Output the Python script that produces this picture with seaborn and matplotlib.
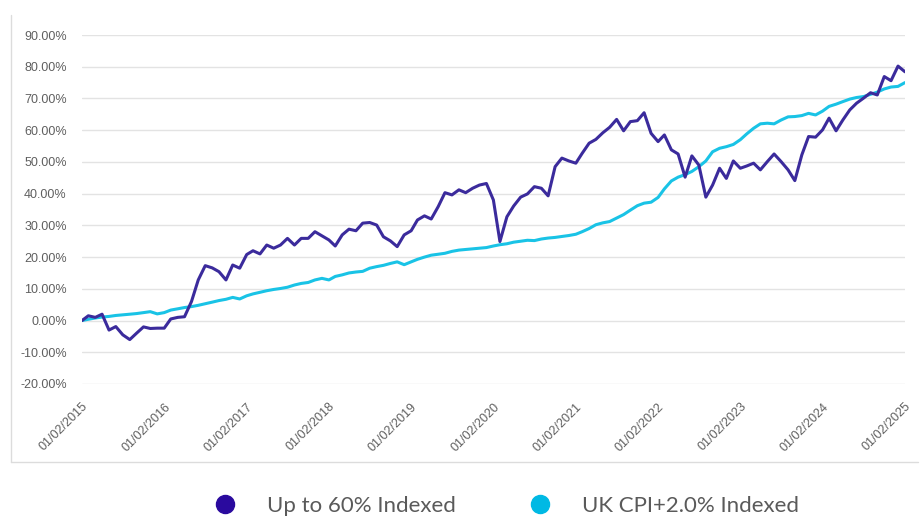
import numpy as np
import pandas as pd
import matplotlib
matplotlib.use("Agg")
import matplotlib.pyplot as plt
import matplotlib.dates as mdates
from matplotlib.lines import Line2D
from matplotlib.ticker import FuncFormatter
import seaborn as sns

# monthly index values (%), Feb 2015 .. Feb 2025
dates = pd.date_range("2015-02-01", periods=121, freq="MS")

up_to_60 = [
    0.0, 1.5, 1.0, 2.0, -3.0, -1.9, -4.5, -6.0, -4.0, -2.0,
    -2.5, -2.4, -2.4, 0.5, 1.0, 1.2, 6.0, 12.8, 17.3, 16.6,
    15.4, 12.8, 17.5, 16.5, 20.8, 22.0, 21.0, 23.8, 22.8, 23.8,
    25.9, 23.8, 25.9, 25.9, 28.0, 26.7, 25.4, 23.5, 27.0, 28.8,
    28.3, 30.7, 30.9, 30.1, 26.4, 25.1, 23.3, 27.0, 28.3, 31.7,
    33.0, 32.0, 35.9, 40.3, 39.6, 41.2, 40.3, 41.7, 42.7, 43.2,
    38.0, 24.9, 32.7, 36.1, 38.9, 39.9, 42.2, 41.7, 39.3, 48.5,
    51.2, 50.3, 49.6, 52.7, 55.9, 57.1, 59.2, 60.9, 63.4, 59.8,
    62.7, 63.0, 65.5, 59.0, 56.4, 58.5, 53.8, 52.5, 45.2, 51.9,
    49.0, 38.9, 42.7, 48.0, 44.8, 50.3, 48.0, 48.7, 49.6, 47.5,
    50.1, 52.5, 50.1, 47.5, 44.1, 52.2, 58.0, 57.8, 60.1, 63.8,
    59.8, 63.2, 66.4, 68.5, 70.1, 71.8, 71.1, 76.9, 75.6, 80.2,
    78.4,
]

uk_cpi_2 = [
    0.0, 0.4, 0.8, 1.1, 1.3, 1.6, 1.8, 2.0, 2.2, 2.5,
    2.8, 2.1, 2.5, 3.3, 3.7, 4.1, 4.4, 4.8, 5.3, 5.8,
    6.3, 6.7, 7.3, 6.8, 7.8, 8.4, 8.9, 9.4, 9.8, 10.1,
    10.5, 11.2, 11.7, 12.0, 12.8, 13.3, 12.8, 13.9, 14.4, 15.0,
    15.3, 15.5, 16.5, 17.0, 17.4, 18.0, 18.5, 17.6, 18.5, 19.3,
    20.0, 20.6, 20.9, 21.2, 21.8, 22.2, 22.4, 22.6, 22.8, 23.0,
    23.5, 23.9, 24.2, 24.7, 25.0, 25.3, 25.2, 25.7, 26.0, 26.2,
    26.5, 26.8, 27.2, 28.0, 29.0, 30.2, 30.8, 31.2, 32.3, 33.4,
    34.8, 36.2, 37.0, 37.3, 38.8, 41.5, 44.0, 45.2, 46.0, 47.0,
    48.5, 50.3, 53.2, 54.3, 54.8, 55.5, 57.0, 58.8, 60.6, 62.0,
    62.2, 62.0, 63.2, 64.2, 64.3, 64.6, 65.3, 64.8, 66.0, 67.5,
    68.2, 69.0, 69.8, 70.3, 70.6, 71.3, 72.0, 73.0, 73.6, 73.8,
    75.0,
]

series_names = ["Up to 60% Indexed", "UK CPI+2.0% Indexed"]
line_colors = ["#3b2b9c", "#19c3e6"]
dot_colors = ["#2a0a9e", "#00b9e4"]

df = pd.DataFrame({"date": dates, series_names[0]: up_to_60, series_names[1]: uk_cpi_2})
long_df = df.melt(id_vars="date", var_name="series", value_name="value")

sns.set_style("white")
plt.rcParams["font.family"] = ["Liberation Sans", "DejaVu Sans"]

fig = plt.figure(figsize=(9.22, 5.19), dpi=100)
W, H = 922, 519
ax = fig.add_axes([82 / W, 1 - 384 / H, (905 - 82) / W, (384 - 35) / H])

# draw cyan first so the dark line sits on top
sns.lineplot(
    data=long_df, x="date", y="value", hue="series",
    hue_order=series_names[::-1], palette=line_colors[::-1],
    linewidth=2.2, legend=False, ax=ax,
)

ax.set_xlim(dates[0], dates[-1])
ax.set_ylim(-20, 90)
ax.set_yticks(np.arange(-20, 91, 10))
ax.yaxis.set_major_formatter(FuncFormatter(lambda v, _: f"{v:.2f}%"))
ax.xaxis.set_major_locator(mdates.MonthLocator(bymonth=2, bymonthday=1))
ax.xaxis.set_major_formatter(mdates.DateFormatter("%d/%m/%Y"))
ax.set_xlabel("")
ax.set_ylabel("")

ax.grid(axis="y", color="#e3e3e3", linewidth=1.0)
ax.grid(axis="x", visible=False)
for s in ax.spines.values():
    s.set_visible(False)
ax.tick_params(axis="both", length=0, labelsize=9, labelcolor="#5f5f5f")
ax.tick_params(axis="y", pad=11)
ax.tick_params(axis="x", pad=12)
for lbl in ax.get_xticklabels():
    lbl.set_rotation(45)
    lbl.set_ha("right")
    lbl.set_rotation_mode("anchor")

# outer frame of the chart area
fig.add_artist(Line2D([11 / W, 11 / W], [1 - 15 / H, 1 - 462 / H], color="#dcdcdc", linewidth=1.0))
fig.add_artist(Line2D([11 / W, 918 / W], [1 - 462 / H, 1 - 462 / H], color="#dcdcdc", linewidth=1.0))

handles = [
    Line2D([], [], marker="o", linestyle="none", markersize=13,
           markerfacecolor=c, markeredgecolor=c)
    for c in dot_colors
]
leg = fig.legend(
    handles, series_names, loc="center", ncol=2, frameon=False,
    bbox_to_anchor=(501 / W, 1 - 506 / H),
    columnspacing=2.8, handletextpad=0.9,
    prop={"family": "Lato", "weight": "normal", "size": 16},
)
for t in leg.get_texts():
    t.set_color("#5a5a5a")

fig.savefig("out.png", dpi=100)
